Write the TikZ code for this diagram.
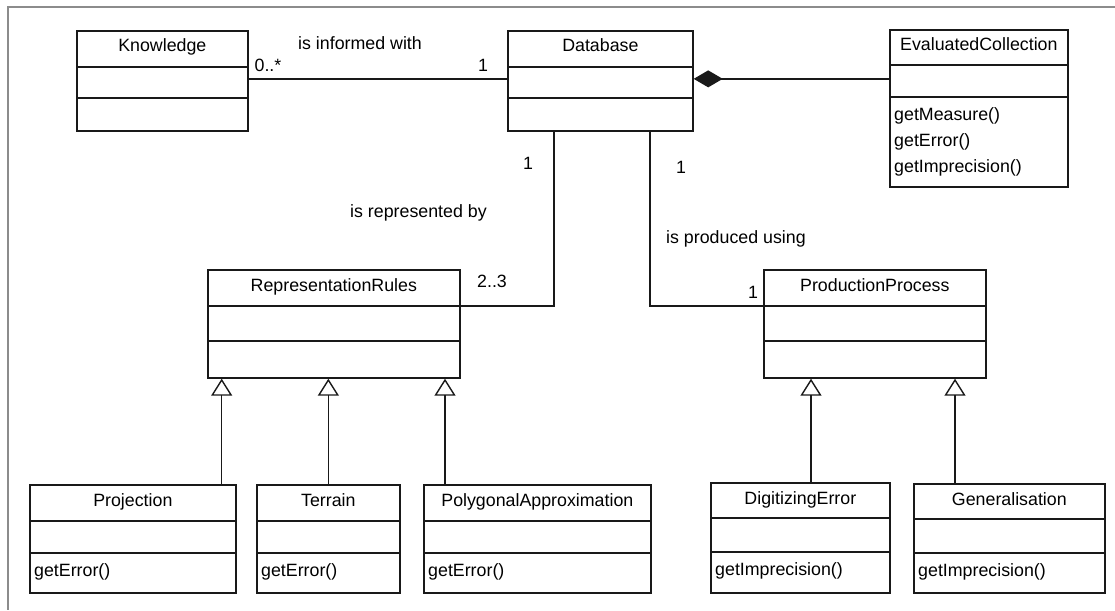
\documentclass[tikz,border=0pt]{standalone}
\usepackage{fontspec}
\setmainfont{Liberation Sans}
\usetikzlibrary{arrows.meta, calc}
\tikzset{
  classbody/.style   = {rectangle, draw=black!90, line width=1.7pt, inner sep=0pt,
                        anchor=north west},
  classname/.style   = {font=\fontsize{17.8}{26}\selectfont, inner sep=0pt, anchor=base},
  classops/.style    = {font=\fontsize{17.8}{26}\selectfont, inner sep=0pt, anchor=base west},
  divider/.style     = {line width=2.7pt, black!90},
  assoc/.style       = {line width=1.4pt, black!90},
  composition/.style = {assoc, {Diamond[length=29pt, width=17pt]}-},
  inherit/.style     = {assoc, -{Triangle[open, length=17pt, width=21pt]}},
  mult/.style        = {font=\fontsize{17.8}{26}\selectfont, inner sep=0pt, anchor=base},
  rolelabel/.style   = {font=\fontsize{17.8}{26}\selectfont, inner sep=0pt, anchor=base west},
  frame/.style       = {draw=black!45, line width=1.3pt},
}
% #1 name, #2 x, #3 y, #4 width, #5 height, #6/#7 divider offsets, #8 title, #9 operations
\newcommand{\umlclass}[9]{%
  \node[classbody, minimum width=#4pt, minimum height=#5pt] (#1) at (#2,-#3) {};
  \draw[divider] ($(#1.north west)+(0,-#6)$) -- ($(#1.north east)+(0,-#6)$);
  \draw[divider] ($(#1.north west)+(0,-#7)$) -- ($(#1.north east)+(0,-#7)$);
  \node[classname] (#1-name) at ($(#1.north)+(0,-22)$) {#8};
  \if\relax\detokenize{#9}\relax\else
    \node[classops] (#1-ops) at ($(#1.north west)+(5,-#7-23)$)
      {\begin{tabular}[t]{@{}l@{}}#9\end{tabular}};
  \fi
}

\begin{document}
\begin{tikzpicture}[x=1pt, y=1pt]
  \useasboundingbox (0,0) rectangle (1115,-610);
  \draw[frame] (1115,-7) -- (8,-7) -- (8,-610);

  % top row
  \umlclass{know}{76}{30}{171}{100}{37}{68}{Knowledge}{}
  \umlclass{db}{507}{30}{185}{100}{37}{68}{Database}{}
  \umlclass{evcoll}{889}{29}{178}{157}{36}{68}{EvaluatedCollection}{getMeasure()\\getError()\\getImprecision()}

  % middle row
  \umlclass{reprules}{207}{269}{252}{108}{37}{72}{RepresentationRules}{}
  \umlclass{prodproc}{763}{269}{222}{108}{37}{72}{ProductionProcess}{}

  % bottom row
  \umlclass{proj}{29}{484}{206}{108}{37}{69}{Projection}{getError()}
  \umlclass{terrain}{256}{484}{143}{108}{37}{69}{Terrain}{getError()}
  \umlclass{polyapprox}{423}{484}{227}{108}{37}{69}{PolygonalApproximation}{getError()}
  \umlclass{digerr}{710}{482}{179}{110}{36}{70}{DigitizingError}{getImprecision()}
  \umlclass{general}{913}{483}{191}{109}{36}{70}{Generalisation}{getImprecision()}

  % associations
  \draw[assoc] ([yshift=2pt]know.east) -- ([yshift=2pt]db.west);
  \draw[composition] ([yshift=2pt]db.east) -- ([yshift=2pt]db.east -| evcoll.west);
  \draw[assoc] ([xshift=47pt]db.south west) |- ([yshift=-37pt]reprules.north east);
  \draw[assoc] ([xshift=143pt]db.south west) |- ([yshift=-37pt]prodproc.north west);

  \node[rolelabel] (informed)    at (298,-49)  {is informed with};
  \node[rolelabel] (represented) at (350,-217) {is represented by};
  \node[rolelabel] (produced)    at (666,-243) {is produced using};

  \node[mult] (m-know)     at (268,-71)  {0..*};
  \node[mult] (m-db)       at (483,-71)  {1};
  \node[mult] (m-dbrep)    at (528,-169) {1};
  \node[mult] (m-dbprod)   at (681,-173) {1};
  \node[mult] (m-reprules) at (492,-287) {2..3};
  \node[mult] (m-prodproc) at (753,-298) {1};

  % generalisations
  \draw[inherit] ([xshift=-15pt]proj.north east) -- ([xshift=-15pt]proj.north east |- reprules.south);
  \draw[inherit] (terrain.north) -- (terrain.north |- reprules.south);
  \draw[inherit] ([xshift=22pt]polyapprox.north west) -- ([xshift=22pt]polyapprox.north west |- reprules.south);
  \draw[inherit] ([xshift=101pt]digerr.north west) -- ([xshift=101pt]digerr.north west |- prodproc.south);
  \draw[inherit] ([xshift=42pt]general.north west) -- ([xshift=42pt]general.north west |- prodproc.south);
\end{tikzpicture}
\end{document}
